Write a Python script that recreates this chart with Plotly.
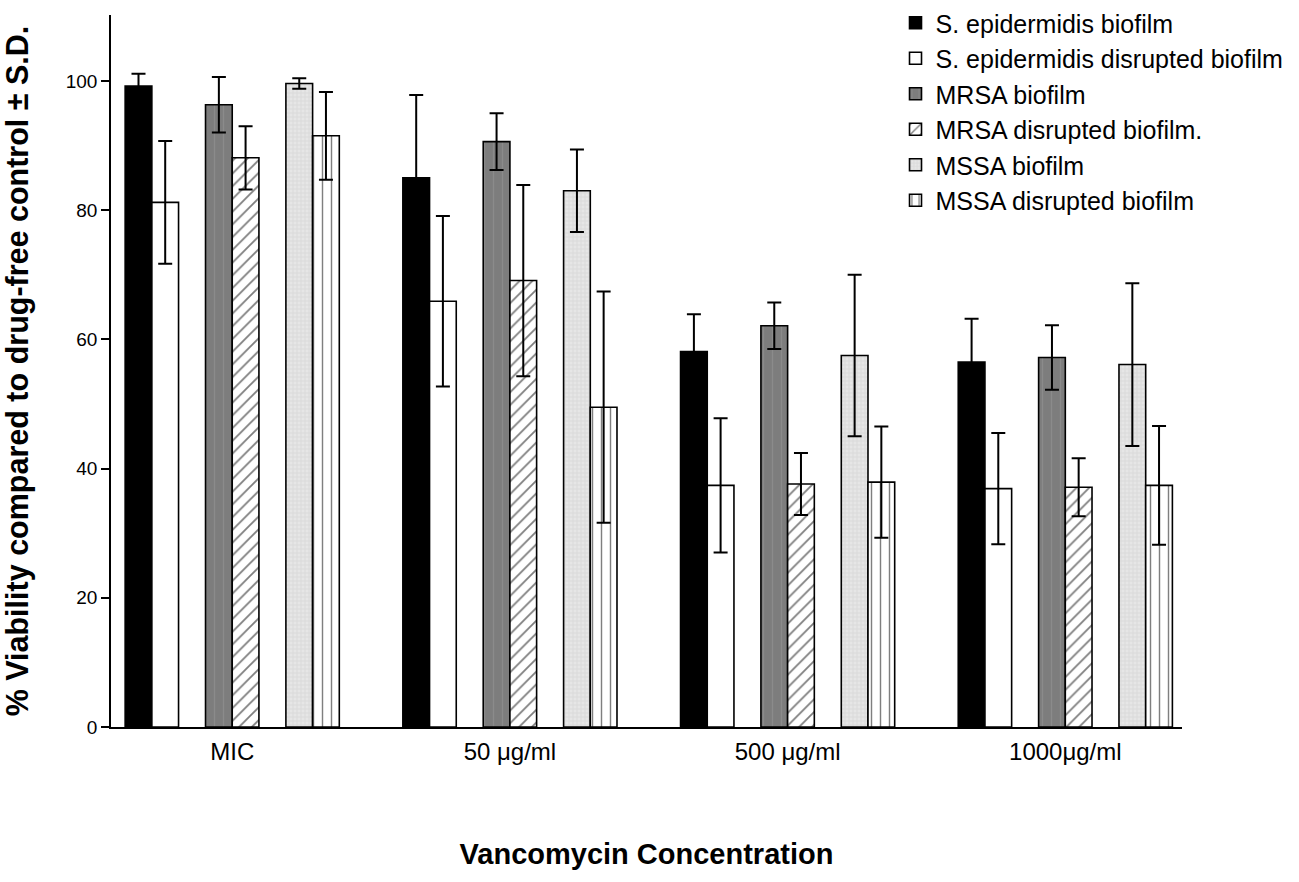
import plotly.graph_objects as go
import numpy as np

categories = ["MIC", "50 \u03bcg/ml", "500 \u03bcg/ml", "1000\u03bcg/ml"]

series_names = [
    "S. epidermidis biofilm",
    "S. epidermidis disrupted biofilm",
    "MRSA biofilm",
    "MRSA disrupted biofilm.",
    "MSSA biofilm",
    "MSSA disrupted biofilm",
]

se_biofilm = [99.2, 85.0, 58.1, 56.5]
se_biofilm_sd = [1.9, 12.8, 5.8, 6.7]
se_disrupted = [81.2, 65.9, 37.4, 36.9]
se_disrupted_sd = [9.5, 13.2, 10.4, 8.6]
mrsa_biofilm = [96.3, 90.6, 62.1, 57.2]
mrsa_biofilm_sd = [4.3, 4.4, 3.6, 5.0]
mrsa_disrupted = [88.1, 69.1, 37.6, 37.1]
mrsa_disrupted_sd = [4.9, 14.8, 4.8, 4.5]
mssa_biofilm = [99.6, 83.0, 57.5, 56.1]
mssa_biofilm_sd = [0.8, 6.4, 12.5, 12.6]
mssa_disrupted = [91.5, 49.5, 37.9, 37.4]
mssa_disrupted_sd = [6.8, 17.9, 8.6, 9.2]

values = [se_biofilm, se_disrupted, mrsa_biofilm, mrsa_disrupted, mssa_biofilm, mssa_disrupted]
sds = [se_biofilm_sd, se_disrupted_sd, mrsa_biofilm_sd, mrsa_disrupted_sd, mssa_biofilm_sd, mssa_disrupted_sd]

# layout geometry (in bar-width units)
GROUP_STEP = 10.4
PAIR_STEP = 3.01
group_centers = np.arange(len(categories)) * GROUP_STEP

styles = [
    dict(color="#000000", pattern=dict(shape="")),
    dict(color="#ffffff", pattern=dict(shape="")),
    dict(color="#7d7d7d", pattern=dict(shape="|", fgcolor="#9a9a9a", bgcolor="#7d7d7d", size=9, solidity=0.12)),
    dict(color="#ffffff", pattern=dict(shape="/", fgcolor="#000000", bgcolor="#ffffff", size=9, solidity=0.2)),
    dict(color="#dedede", pattern=dict(shape="+", fgcolor="#c4c4c4", bgcolor="#e6e6e6", size=4, solidity=0.3)),
    dict(color="#ffffff", pattern=dict(shape="|", fgcolor="#000000", bgcolor="#ffffff", size=9, solidity=0.16)),
]

FONT = "Liberation Sans, Arial, Helvetica, sans-serif"

fig = go.Figure()
for i, (name, vals, sd, st) in enumerate(zip(series_names, values, sds, styles)):
    pair = i // 2
    member = i % 2
    offset = (pair - 1) * PAIR_STEP + (member - 0.5)
    fig.add_trace(go.Bar(
        name=name,
        x=group_centers + offset,
        y=vals,
        width=1.0,
        marker=dict(color=st["color"], pattern=st["pattern"],
                    line=dict(color="#000000", width=1.6)),
        error_y=dict(type="data", array=sd, visible=True, color="#000000",
                     thickness=2, width=7),
    ))

fig.update_layout(
    width=1299, height=882,
    margin=dict(l=111, r=117, t=15, b=155, autoexpand=False),
    plot_bgcolor="white", paper_bgcolor="white",
    barmode="overlay",
    font=dict(family=FONT, color="#000000"),
    showlegend=True,
    legend=dict(x=0.7325, y=1.021, xanchor="left", yanchor="top",
                font=dict(size=25, family=FONT), bgcolor="rgba(0,0,0,0)",
                tracegroupgap=0),
    xaxis=dict(
        range=[-4.54, 35.57],
        tickvals=list(group_centers), ticktext=categories,
        showline=True, linecolor="#000000", linewidth=1.5,
        ticks="", showgrid=False, zeroline=False,
        tickfont=dict(size=24, family=FONT),
        ticklabelstandoff=2,
        title=dict(text="<b>Vancomycin Concentration</b>", font=dict(size=29, family=FONT), standoff=80),
    ),
    yaxis=dict(
        range=[0, 110.2],
        tickvals=[0, 20, 40, 60, 80, 100],
        showline=True, linecolor="#000000", linewidth=1.5,
        ticks="outside", ticklen=8, tickwidth=1.5, tickcolor="#000000",
        showgrid=False, zeroline=False,
        tickfont=dict(size=19, family=FONT),
        title=dict(text="<b>% Viability compared to drug-free control \u00b1 S.D.</b>",
                   font=dict(size=30.5, family=FONT), standoff=34),
    ),
)

fig.write_html("out.html", config={"displayModeBar": False},
               post_script="document.body.style.margin='0';")
